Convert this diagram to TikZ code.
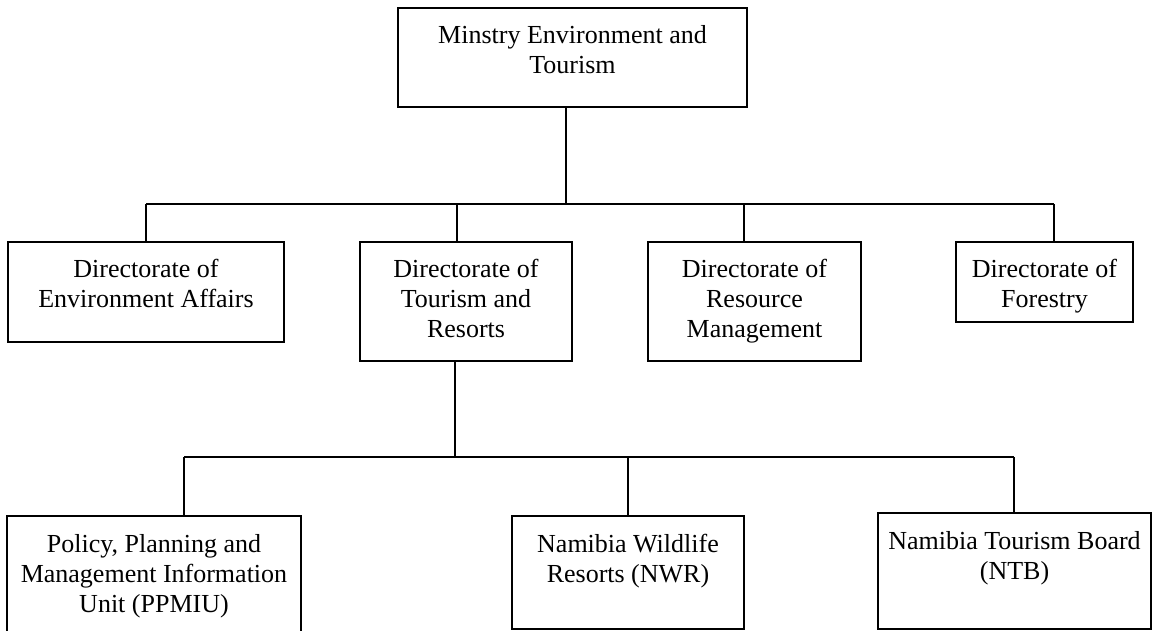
\documentclass[tikz,border=0pt]{standalone}
\usepackage{fontspec}
\setmainfont{Liberation Serif}
\newcommand\bxtext[3]{\parbox[t][#2][t]{#1}{\centering\rule{0pt}{36pt}#3}}
\tikzset{
  orgbox/.style={draw, line width=2.2pt, inner sep=0pt, outer sep=0pt, anchor=north west,
                 font=\fontsize{26}{30}\selectfont},
  thinlink/.style={line width=1.3pt},
  thicklink/.style={line width=2.4pt}
}
\begin{document}
\begin{tikzpicture}[x=1pt,y=-1pt]
\useasboundingbox (0,0) rectangle (1152,631);
\fill[white] (0,0) rectangle (1152,631);
% boxes
\node[orgbox] (top) at (398,8) {\bxtext{349pt}{99pt}{Minstry Environment and\\Tourism}};
\node[orgbox] (ea) at (8,242) {\bxtext{276pt}{100pt}{Directorate of\\Environment Affairs}};
\node[orgbox] (tr) at (360,242) {\bxtext{212pt}{119pt}{Directorate of\\Tourism and\\Resorts}};
\node[orgbox] (rm) at (648,242) {\bxtext{213pt}{119pt}{Directorate of\\Resource\\Management}};
\node[orgbox] (fo) at (956,242) {\bxtext{177pt}{80pt}{Directorate of\\Forestry}};
\node[orgbox] (pp) at (7,516) {\bxtext{294pt}{130pt}{Policy, Planning and\\Management Information\\Unit (PPMIU)}};
\node[orgbox] (nwr) at (512,516) {\bxtext{232pt}{113pt}{Namibia Wildlife\\Resorts (NWR)}};
\node[orgbox] (ntb) at (878,513) {\bxtext{273pt}{116pt}{Namibia Tourism Board\\(NTB)}};
% junction coordinates
\coordinate (j0) at (566,204);
\coordinate (b1) at (146,204);
\coordinate (b2) at (457,204);
\coordinate (b3) at (744,204);
\coordinate (b4) at (1054,204);
\coordinate (k0) at (455,457);
\coordinate (c1) at (184,457);
\coordinate (c2) at (628,457);
\coordinate (c3) at (1014,457);
% connectors
\draw[thicklink] (top.south -| j0) -- (j0);
\draw[thinlink] (b1) -- (b4);
\draw[thinlink] (b1) -- (ea.north -| b1);
\draw[thinlink] (b2) -- (tr.north -| b2);
\draw[thinlink] (b3) -- (rm.north -| b3);
\draw[thinlink] (b4) -- (fo.north -| b4);
\draw[thicklink] (tr.south -| k0) -- (k0);
\draw[thinlink] (c1) -- (c3);
\draw[thinlink] (c1) -- (pp.north -| c1);
\draw[thinlink] (c2) -- (nwr.north -| c2);
\draw[thinlink] (c3) -- (ntb.north -| c3);
\end{tikzpicture}
\end{document}
